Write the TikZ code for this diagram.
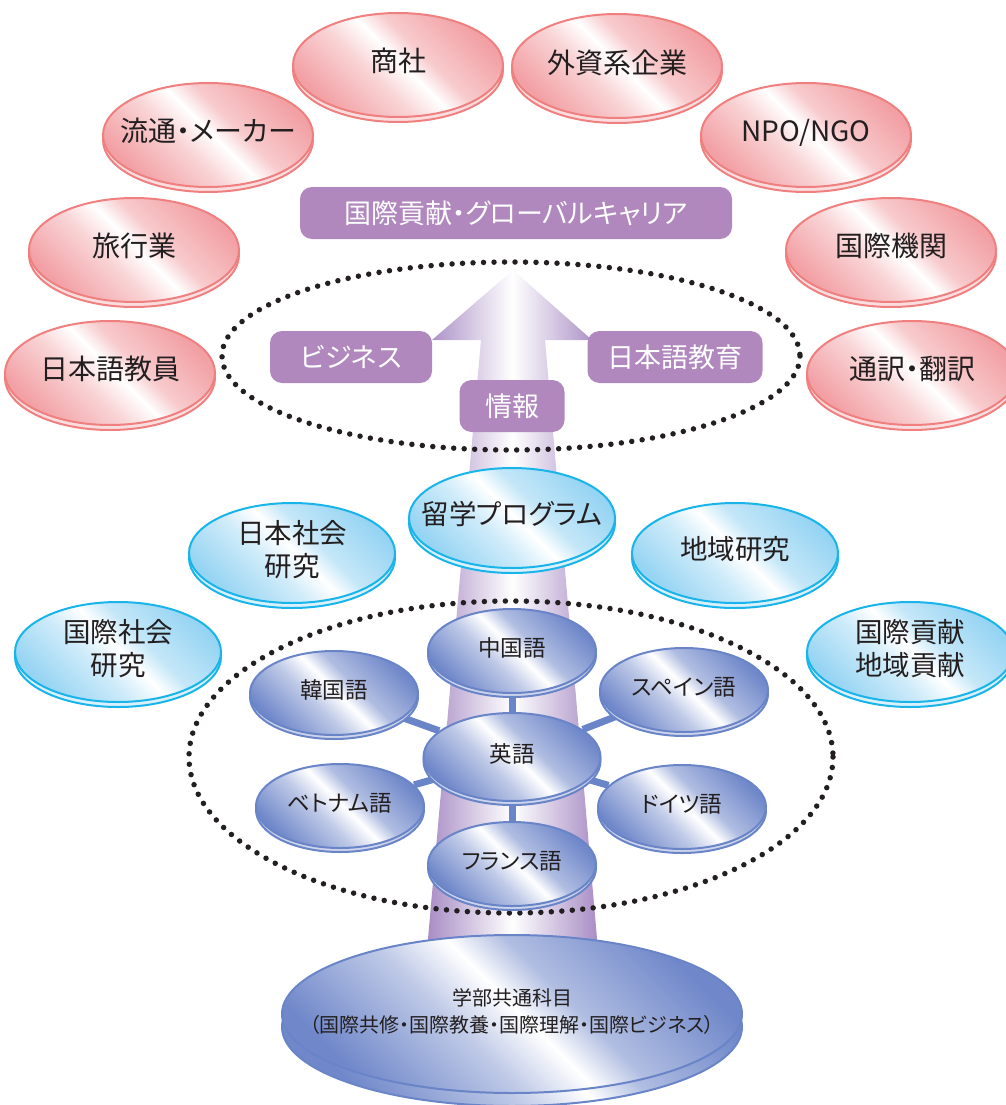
\documentclass[tikz,border=0pt]{standalone}
\usepackage{fontspec}
\newfontfamily\jp[RawFeature=+palt]{Noto Sans CJK JP}
\usetikzlibrary{shapes.geometric}
\definecolor{pinkf}{RGB}{242,160,164}
\definecolor{pinkl}{RGB}{240,128,128}
\definecolor{cyanf}{RGB}{150,212,243}
\definecolor{cyanl}{RGB}{24,180,234}
\definecolor{bluef}{RGB}{112,136,202}
\definecolor{bluel}{RGB}{106,132,200}
\definecolor{arrowc}{RGB}{168,140,196}
\definecolor{labelc}{RGB}{176,136,190}
\definecolor{txt}{RGB}{35,31,32}
\pgfdeclarehorizontalshading{pinkshade}{100bp}{color(0bp)=(pinkf); color(25bp)=(pinkf); color(42bp)=(pinkf!45!white); color(51bp)=(white); color(58bp)=(pinkf!55!white); color(75bp)=(pinkf); color(100bp)=(pinkf)}
\pgfdeclarehorizontalshading{cyanshade}{100bp}{color(0bp)=(cyanf); color(25bp)=(cyanf); color(42bp)=(cyanf!45!white); color(51bp)=(white); color(58bp)=(cyanf!55!white); color(75bp)=(cyanf); color(100bp)=(cyanf)}
\pgfdeclarehorizontalshading{blueshade}{100bp}{color(0bp)=(bluef); color(25bp)=(bluef); color(42bp)=(bluef!45!white); color(51bp)=(white); color(58bp)=(bluef!55!white); color(75bp)=(bluef); color(100bp)=(bluef)}
\pgfdeclarelayer{bg}
\pgfdeclarelayer{links}
\pgfsetlayers{bg,links,main}
\newcommand\inside[1]{\makebox[0pt]{\begin{tabular}{@{}c@{}}#1\end{tabular}}}
\begin{document}
\begin{tikzpicture}[x=1pt,y=-1pt,
  disc/.style={ellipse, inner sep=0pt, line width=2pt, text=txt, shade, shading angle=45},
  pinkdisc/.style={disc, draw=pinkl, shading=pinkshade, minimum width=210pt, minimum height=104pt,
    font=\jp\fontsize{28}{32}\selectfont,
    preaction={draw=pinkl, line width=2pt, fill=pinkf!35!white, transform canvas={yshift=-5pt}}},
  cyandisc/.style={disc, draw=cyanl, shading=cyanshade, minimum width=206pt, minimum height=100pt,
    font=\jp\fontsize{27.5}{31}\selectfont,
    preaction={draw=cyanl, line width=2pt, fill=cyanf!35!white, transform canvas={yshift=-5pt}}},
  bluedisc/.style={disc, draw=bluel, shading=blueshade, minimum width=168pt, minimum height=84pt,
    font=\jp\fontsize{22.5}{26}\selectfont,
    preaction={draw=bluel, line width=2pt, fill=bluef!35!white, transform canvas={yshift=-4pt}}},
  bigdisc/.style={disc, draw=bluel, shading=blueshade, minimum width=460pt, minimum height=158pt,
    font=\jp\fontsize{20}{27}\selectfont},
  tag/.style={rectangle, rounded corners=12pt, fill=labelc, text=white, inner sep=0pt,
    minimum height=52pt, font=\jp\fontsize{27}{30}\selectfont},
  dotline/.style={draw=txt, line width=5.5pt, line cap=round, dash pattern=on 0pt off 10.5pt},
  link/.style={draw=bluel, line width=7pt}]
\useasboundingbox (0,0) rectangle (1005,1105);
% arrow
\begin{pgfonlayer}{bg}
\path[left color=arrowc, right color=arrowc, middle color=white]
  (513,270) -- (592,340) -- (545,340) -- (598,950) -- (427,950) -- (481,340) -- (432,340) -- cycle;
\end{pgfonlayer}
% dotted rings
\draw[dotline] (511,356) ellipse [x radius=289, y radius=94];
\draw[dotline] (511,757) ellipse [x radius=322, y radius=156];
% career discs
\node[pinkdisc] (shosha) at (398,65) {\inside{商社}};
\node[pinkdisc] (gaishi) at (617,66) {\inside{外資系企業}};
\node[pinkdisc] (ryutsu) at (208,135) {\inside{流通・メーカー}};
\node[pinkdisc] (npo) at (806,135) {\inside{NPO/NGO}};
\node[pinkdisc] (ryoko) at (134,250) {\inside{旅行業}};
\node[pinkdisc] (kikan) at (891,250) {\inside{国際機関}};
\node[pinkdisc] (kyoin) at (110,373) {\inside{日本語教員}};
\node[pinkdisc] (tsuyaku) at (912,373) {\inside{通訳・翻訳}};
% tags
\node[tag, minimum width=432pt] (global) at (516,213) {国際貢献・グローバルキャリア};
\node[tag, minimum width=162pt] (biz) at (351,357) {ビジネス};
\node[tag, minimum width=175pt] (nihongo) at (675,357) {日本語教育};
\node[tag, minimum width=105pt] (joho) at (512,406) {情報};
% study discs
\node[cyandisc] (ryugaku) at (512,518) {\inside{留学プログラム}};
\node[cyandisc] (nihonsha) at (292,553) {\inside{日本社会\\研究}};
\node[cyandisc] (chiiki) at (735,553) {\inside{地域研究}};
\node[cyandisc] (kokusha) at (118,652) {\inside{国際社会\\研究}};
\node[cyandisc] (koken) at (910,652) {\inside{国際貢献\\地域貢献}};
% language discs
\node[bluedisc] (zh) at (512,651) {\inside{中国語}};
\node[bluedisc, minimum width=177pt, minimum height=88pt] (en) at (512,757) {\inside{英語}};
\node[bluedisc] (fr) at (512,864) {\inside{フランス語}};
\node[bluedisc] (ko) at (334,693) {\inside{韓国語}};
\node[bluedisc] (vi) at (340,806) {\inside{ベトナム語}};
\node[bluedisc] (es) at (684,690) {\inside{スペイン語}};
\node[bluedisc] (de) at (682,807) {\inside{ドイツ語}};
\begin{pgfonlayer}{links}
\draw[link] (en) -- (zh);
\draw[link] (en) -- (fr);
\draw[link] (en) -- (ko);
\draw[link] (en) -- (vi);
\draw[link] (en) -- (es);
\draw[link] (en) -- (de);
\end{pgfonlayer}
% base
\node[bigdisc] (basebottom) at (512,1027) {};
\node[bigdisc] (base) at (512,1014) {\inside{学部共通科目\\（国際共修・国際教養・国際理解・国際ビジネス）}};
\end{tikzpicture}
\end{document}
